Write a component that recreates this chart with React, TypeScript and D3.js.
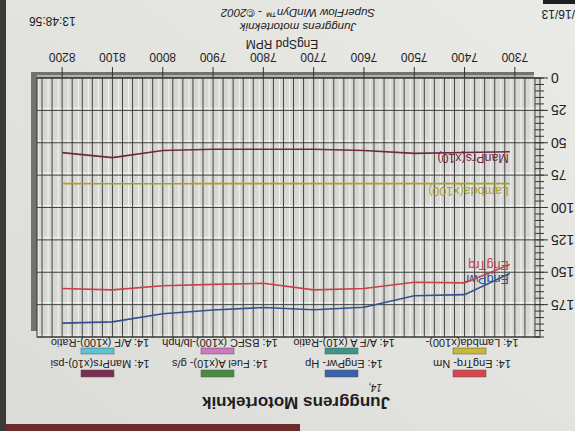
import * as d3 from 'd3';

// run 14 (EngSpd RPM)
const rpm = [7310, 7400, 7500, 7600, 7700, 7800, 7900, 8000, 8100, 8200];
const engTrq = [144, 158.2, 157.7, 162.5, 163.6, 158.5, 159.4, 160.4, 163.6, 162.5];
const engPwr = [151, 167.3, 168.2, 177, 179, 177.2, 179.1, 182, 188.3, 189.3];
const manPrs = [57, 57.5, 58.2, 56, 55, 55, 55, 56, 61.5, 57.6];
const lambda = [81.6, 81.6, 81.6, 81.6, 81.6, 81.6, 81.6, 81.7, 81.7, 81.6];

const xTicks = [7300, 7400, 7500, 7600, 7700, 7800, 7900, 8000, 8100, 8200];
const yTicks = [0, 25, 50, 75, 100, 125, 150, 175];

const legendTop = ['14: EngTrq- Nm', '14: EngPwr- Hp', '14: Fuel A(x10)- g/s', '14: ManPrs(x10)-psi'];
const legendBottom = ['14: Lambda(x100)-', '14: A/F A (x10)-Ratio', '14: BSFC (x100)-lb/hph', '14: A/F (x100)-Ratio'];
const topColors = ['#d4474f', '#3b62a8', '#4b8a42', '#7a2f52'];
const bottomColors = ['#c9b936', '#3e9589', '#cf78bd', '#5cc4d4'];

const W = 575;
const H = 431;
const FONT = '"Liberation Sans", Arial, sans-serif';

export default function App() {
  const m = { left: 35, right: 538, top: 94, bottom: 353 };
  const x = d3.scaleLinear().domain([7250, 8250]).range([m.left, m.right]);
  const y = d3.scaleLinear().domain([0, 200]).range([m.bottom, m.top]);

  const series = [
    { name: 'Lambda(x100)', values: lambda, color: '#a8a21e', dy: -3 },
    { name: 'ManPrs(x10)', values: manPrs, color: '#6e2846', dy: -2 },
    { name: 'EngPwr', values: engPwr, color: '#34508f', dy: -1 },
    { name: 'EngTrq', values: engTrq, color: '#c8414b', dy: 3 },
  ];

  const line = d3
    .line<number>()
    .x((_, i) => x(rpm[i]))
    .y((d) => y(d));

  const vGrid = d3.range(7260, 8250, 20);
  const hGrid = d3.range(0, 201, 25);
  const minor = d3.range(0, 201, 5);
  const cols = [103, 231, 355, 475];

  return (
    <svg
      width={W}
      height={H}
      style={{ position: 'absolute', left: 0, top: 0, display: 'block' }}
      fontFamily={FONT}
    >
      <defs>
        <linearGradient id="paper" x1="0" y1="1" x2="1" y2="0">
          <stop offset="0%" stopColor="#eaeae7" />
          <stop offset="100%" stopColor="#dbdcd8" />
        </linearGradient>
      </defs>
      {/* the photo is upside down, so the whole sheet is turned */}
      <g transform={`rotate(180 ${W / 2} ${H / 2})`}>
        <rect width={W} height={H} fill="url(#paper)" />
        <rect x={275} y={0} width={300} height={7} fill="#6a2b2a" />
        <rect x={569} y={0} width={6} height={H} fill="#3a3a3a" />
        <rect x={0} y={427} width={32} height={4} fill="#1e1e1e" />

        {/* shadow + plot */}
        <rect x={m.left + 6} y={m.top + 6} width={m.right - m.left} height={m.bottom - m.top} fill="#727270" />
        <rect x={m.left} y={m.top} width={m.right - m.left} height={m.bottom - m.top} fill="#d7d8d4" />

        {vGrid.map((v) => (
          <line key={'w' + v} x1={x(v) + 4} x2={x(v) + 4} y1={m.top} y2={m.bottom} stroke="#f1f1ef" strokeWidth={1.1} />
        ))}
        {hGrid.map((v) => (
          <line key={'hw' + v} x1={m.left} x2={m.right} y1={y(v) + 2} y2={y(v) + 2} stroke="#f1f1ef" strokeWidth={1.1} />
        ))}
        {vGrid.map((v) => (
          <line key={'v' + v} x1={x(v)} x2={x(v)} y1={m.top} y2={m.bottom} stroke="#333" strokeWidth={0.9} />
        ))}
        {hGrid.map((v) => (
          <line key={'h' + v} x1={m.left} x2={m.right} y1={y(v)} y2={y(v)} stroke="#333" strokeWidth={0.9} />
        ))}
        <rect x={m.left} y={m.top} width={m.right - m.left} height={m.bottom - m.top} fill="none" stroke="#333" strokeWidth={1} />

        {/* y axis */}
        {minor.map((v) => (
          <line key={'mt' + v} x1={m.left - 4} x2={m.left + 5} y1={y(v)} y2={y(v)} stroke="#333" strokeWidth={1} />
        ))}
        {yTicks.map((v) => (
          <g key={'yt' + v}>
            <line x1={m.left - 8} x2={m.left} y1={y(v)} y2={y(v)} stroke="#333" strokeWidth={1} />
            <text x={24} y={y(v)} dy="0.35em" textAnchor="end" fontSize={14} fill="#222">
              {v}
            </text>
          </g>
        ))}

        {/* x axis */}
        {xTicks.map((v) => (
          <g key={'xt' + v}>
            <line x1={x(v)} x2={x(v)} y1={m.bottom} y2={m.bottom + 11} stroke="#333" strokeWidth={1} />
            <text x={x(v)} y={378} textAnchor="middle" fontSize={12} fill="#222">
              {v}
            </text>
          </g>
        ))}
        <text x={293} y={391} textAnchor="middle" fontSize={12} fill="#222">
          EngSpd RPM
        </text>

        {/* curves */}
        {series.map((s) => (
          <g key={s.name}>
            <path d={line(s.values) ?? ''} fill="none" stroke={s.color} strokeWidth={1.6} />
            <text x={x(rpm[0]) + 1} y={y(s.values[0]) + s.dy} fontSize={12.5} fill={s.color}>
              {s.name}
            </text>
          </g>
        ))}

        {/* legend */}
        {legendTop.map((t, i) => (
          <g key={t}>
            <rect x={cols[i] - 14} y={54} width={33} height={7} fill={topColors[i]} stroke="#555" strokeWidth={0.5} />
            <text x={cols[i]} y={71} textAnchor="middle" fontSize={11} fill="#222">
              {t}
            </text>
          </g>
        ))}
        {legendBottom.map((t, i) => (
          <g key={t}>
            <rect x={cols[i] - 14} y={77} width={33} height={6} fill={bottomColors[i]} stroke="#555" strokeWidth={0.5} />
            <text x={cols[i]} y={92} textAnchor="middle" fontSize={11} fill="#222">
              {t}
            </text>
          </g>
        ))}

        {/* header / footer text */}
        <text x={279} y={34} textAnchor="middle" fontSize={17} fontWeight="bold" fill="#1e1e1e">
          Junggrens Motorteknik
        </text>
        <text x={193} y={47} fontSize={10} fontStyle="italic" fill="#222">
          14,
        </text>
        <text x={277} y={408} textAnchor="middle" fontSize={11.5} fontStyle="italic" fill="#222">
          Junggrens motorteknik
        </text>
        <text x={277} y={422} textAnchor="middle" fontSize={11.5} fontStyle="italic" fill="#222">
          SuperFlow WinDyn™ - ©2002
        </text>
        <text x={546} y={414} textAnchor="end" fontSize={12} fill="#222">
          13:48:56
        </text>
        <text x={0} y={421} fontSize={12} fill="#222">
          /16/13
        </text>
      </g>
    </svg>
  );
}
